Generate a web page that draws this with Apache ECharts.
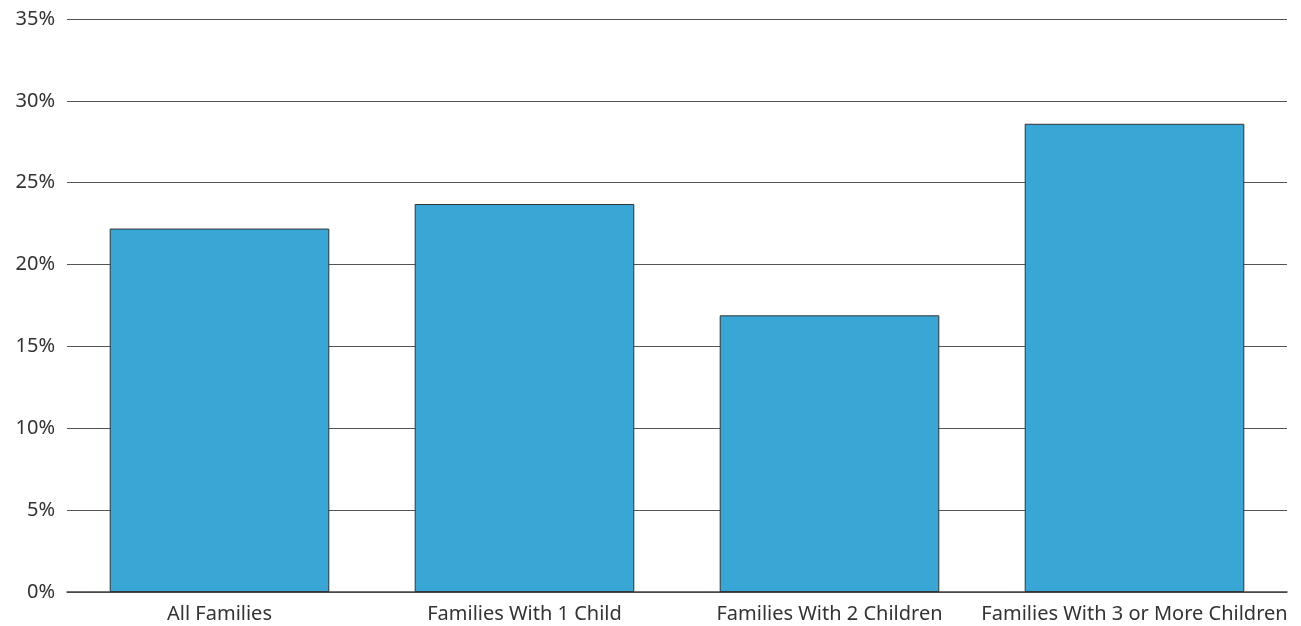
<!DOCTYPE html>
<html><head><meta charset="utf-8">
<script src="https://cdn.jsdelivr.net/npm/echarts@6/dist/echarts.min.js"></script>
<style>html,body{margin:0;padding:0;background:#fff}#c{width:1301px;height:626px}</style>
</head><body><div id="c"></div>
<script>
const categories = ["All Families", "Families With 1 Child", "Families With 2 Children", "Families With 3 or More Children"];
const values = [22.2, 23.7, 16.9, 28.6];
const chart = echarts.init(document.getElementById('c'), null, {renderer: 'canvas'});
chart.setOption({
  animation: false,
  grid: {left: 67, right: 14, top: 19, bottom: 34},
  xAxis: {
    type: 'category', data: categories,
    axisLine: {lineStyle: {color: '#444', width: 1.5}},
    axisTick: {show: false},
    axisLabel: {interval: 0, color: '#333', fontSize: 20, fontFamily: 'Noto Sans', margin: 12}
  },
  yAxis: {
    type: 'value', min: 0, max: 35, interval: 5,
    axisLine: {show: false}, axisTick: {show: false},
    splitLine: {lineStyle: {color: '#555', width: 1}},
    axisLabel: {formatter: '{value}%', color: '#333', fontSize: 20, fontFamily: 'Noto Sans', margin: 12}
  },
  series: [{
    type: 'bar', data: values, barWidth: '72%',
    itemStyle: {color: '#38a7d5', borderColor: '#333', borderWidth: 1}
  }]
});
</script></body></html>
